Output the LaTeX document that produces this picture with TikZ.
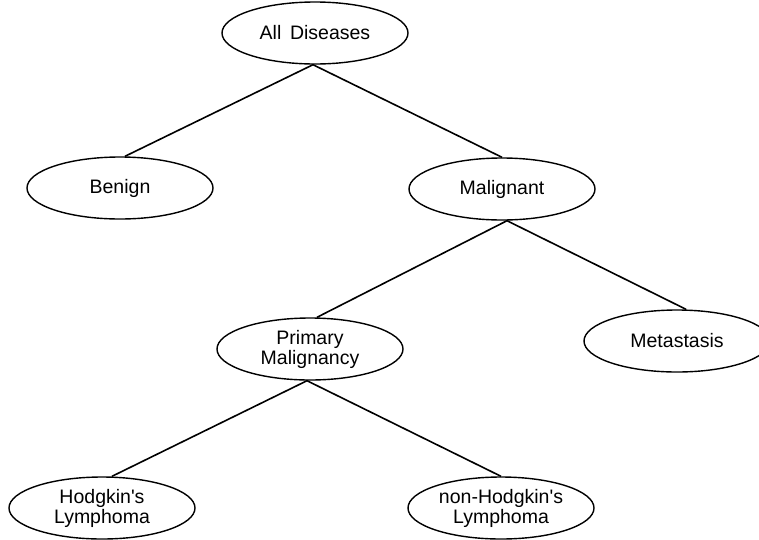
\documentclass[tikz,border=0pt]{standalone}
\usepackage{fontspec}
\setmainfont{Liberation Sans}
\usetikzlibrary{shapes.geometric}
\begin{document}
\begin{tikzpicture}[x=1pt,y=-1pt,
  disease/.style={draw, ellipse, line width=1.4pt, minimum width=186pt,
    minimum height=62pt, inner sep=0pt, align=center,
    font=\fontsize{19.5}{20}\selectfont},
  branch/.style={line width=1.6pt}]
\useasboundingbox (0,0) rectangle (759,539);
\clip (0,0) rectangle (759,539);
\fill[white] (0,0) rectangle (759,539);

% tree nodes
\node[disease] (all)  at (315,33)  {All\, Diseases};
\node[disease] (ben)  at (120,188) {Benign};
\node[disease] (mal)  at (502,189) {Malignant};
\node[disease] (prim) at (310,349) {Primary\\Malignancy};
\node[disease] (meta) at (677,341) {Metastasis};
\node[disease] (hod)  at (102,508) {Hodgkin\textquotesingle s\\Lymphoma};
\node[disease] (nhod) at (501,508) {non-Hodgkin\textquotesingle s\\Lymphoma};

% branches
\draw[branch] ([xshift=-2pt]all.south) -- ([xshift=5pt]ben.north);
\draw[branch] ([xshift=-2pt]all.south) -- (mal.north);
\draw[branch] ([xshift=5pt]mal.south) -- ([xshift=7pt]prim.north);
\draw[branch] ([xshift=5pt]mal.south) -- ([xshift=9pt]meta.north);
\draw[branch] ([xshift=-3pt]prim.south) -- ([xshift=10pt]hod.north);
\draw[branch] ([xshift=-3pt]prim.south) -- (nhod.north);
\end{tikzpicture}
\end{document}
